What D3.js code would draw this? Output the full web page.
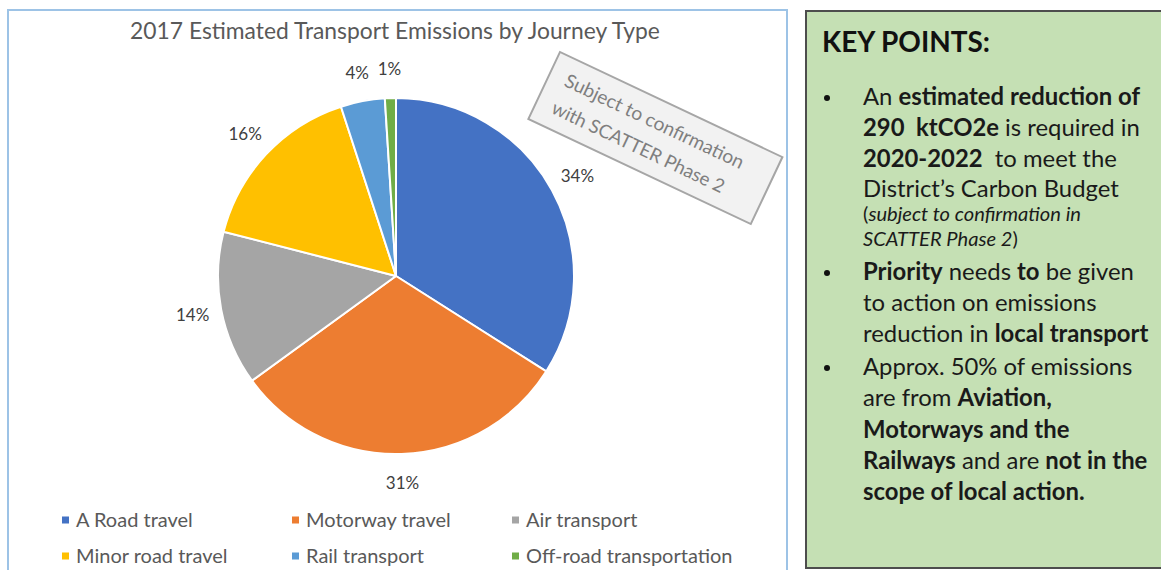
<!DOCTYPE html>
<html><head><meta charset="utf-8">
<script src="https://cdn.jsdelivr.net/npm/d3@7"></script>
<style>body{margin:0;background:#fff}svg{display:block}</style>
</head><body>
<script>
const categories = ["A Road travel","Motorway travel","Air transport","Minor road travel","Rail transport","Off-road transportation"];
const values = [34,31,14,16,4,1];
const valueLabels = ["34%","31%","14%","16%","4%","1%"];
const colors = ["#4472c4","#ed7d31","#a5a5a5","#ffc000","#5b9bd5","#70ad47"];
const title = "2017 Estimated Transport Emissions by Journey Type";
const noteLines = ["Subject to confirmation","with SCATTER Phase 2"];
const keyTitle = "KEY POINTS:";
const keyLines = [
  [true,"n",[["An ","n"],["estimated reduction of","b"]]],
  [false,"n",[["290  ktCO2e","b"],[" is required in","n"]]],
  [false,"n",[["2020-2022","b"],["  to meet the","n"]]],
  [false,"n",[["District\u2019s Carbon Budget","n"]]],
  [false,"s",[["(","n"],["subject to confirmation in","i"]]],
  [false,"s",[["SCATTER Phase 2","i"],[")","n"]]],
  [true,"n",[["Priority","b"],[" needs ","n"],["to","b"],[" be given","n"]]],
  [false,"n",[["to action on emissions","n"]]],
  [false,"n",[["reduction in ","n"],["local transport","b"]]],
  [true,"n",[["Approx. 50% of emissions","n"]]],
  [false,"n",[["are from ","n"],["Aviation,","b"]]],
  [false,"n",[["Motorways and the","b"]]],
  [false,"n",[["Railways","b"],[" and are ","n"],["not in the","b"]]],
  [false,"n",[["scope of local action.","b"]]]
];
const keyBaselines = [105,136,167,197,221,246,280,311,342,375,406,438,469,500];
const keyWidths = [282,267,242,268,222,152,268,235,285,268,194,210,284,222];

const W=1161,H=570;
const FONT="Lato, 'Open Sans', sans-serif";
const svg=d3.select("body").append("svg").attr("width",W).attr("height",H);

function fittedSize(sel, target){
  const w=sel.node().getComputedTextLength();
  const fs=parseFloat(sel.attr("font-size"));
  return w>0 ? fs*target/w : fs;
}
function fitSize(sel,target){ sel.attr("font-size",fittedSize(sel,target).toFixed(2)); }

// left chart frame
svg.append("rect").attr("x",8).attr("y",10).attr("width",779).attr("height",580)
  .attr("fill","#fff").attr("stroke","#9dc3e6").attr("stroke-width",2);

const tt=svg.append("text").attr("x",395).attr("y",39).attr("text-anchor","middle")
  .attr("font-family",FONT).attr("font-size",20).attr("fill","#595959").text(title);
fitSize(tt,530);

// pie
const cx=396, cy=276, R=178;
const pie=d3.pie().sort(null).value(d=>d)(values);
const arc=d3.arc().innerRadius(0).outerRadius(R);
const labelArc=d3.arc().innerRadius(207).outerRadius(207);
const g=svg.append("g").attr("transform",`translate(${cx},${cy})`);
g.selectAll("path").data(pie).join("path").attr("d",arc)
  .attr("fill",(d,i)=>colors[i]).attr("stroke","#fff").attr("stroke-width",2).attr("stroke-linejoin","round");
g.selectAll("text.lbl").data(pie).join("text").attr("class","lbl")
  .attr("transform",d=>`translate(${labelArc.centroid(d)})`)
  .attr("text-anchor","middle").attr("dy","0.35em")
  .attr("font-family",FONT).attr("font-size",17).attr("fill","#404040")
  .text((d,i)=>valueLabels[i]);

// legend
const lx=d3.scaleOrdinal().domain([0,1,2]).range([62,292,512]);
const ly=d3.scaleOrdinal().domain([0,1]).range([520,556]);
const leg=svg.append("g").selectAll("g").data(categories).join("g")
  .attr("transform",(d,i)=>`translate(${lx(i%3)},${ly(Math.floor(i/3))})`);
leg.append("rect").attr("x",0).attr("y",-3.5).attr("width",7).attr("height",7).attr("fill",(d,i)=>colors[i]);
leg.append("text").attr("x",14).attr("dy","0.35em").attr("font-family",FONT).attr("font-size",20)
  .attr("fill","#595959").text(d=>d);

// rotated note box
const note=svg.append("g").attr("transform","translate(560,52) rotate(25.3)");
note.append("rect").attr("x",0).attr("y",0).attr("width",246).attr("height",74)
  .attr("fill","#f2f2f2").attr("stroke","#a6a6a6").attr("stroke-width",2);
const nt=note.selectAll("text").data(noteLines).join("text")
  .attr("x",17).attr("y",(d,i)=>29+i*30)
  .attr("font-family",FONT).attr("font-size",19).attr("fill","#7f7f7f").text(d=>d);
nt.each(function(d,i){ fitSize(d3.select(this),[196,189][i]); });

// key points panel
svg.append("rect").attr("x",806).attr("y",11).attr("width",370).attr("height",557)
  .attr("fill","#c5e0b4").attr("stroke","#4d4d4d").attr("stroke-width",2);
const kt=svg.append("text").attr("x",822).attr("y",52).attr("font-family",FONT).attr("font-weight","bold")
  .attr("font-size",25).attr("fill","#111").text(keyTitle);
fitSize(kt,168);
const texts=[];
const kl=svg.append("g").selectAll("g").data(keyLines).join("g");
kl.each(function(d,i){
  const gg=d3.select(this);
  const y=keyBaselines[i];
  if(d[0]) gg.append("circle").attr("cx",827).attr("cy",y-7).attr("r",3).attr("fill","#111");
  const t=gg.append("text").attr("x",863).attr("y",y).attr("font-family",FONT)
    .attr("font-size",d[1]==="s"?15:21).attr("fill","#1a1a1a").attr("xml:space","preserve");
  d[2].forEach(s=>{
    t.append("tspan").text(s[0])
      .attr("font-weight",s[1]==="b"?"bold":"normal")
      .attr("font-style",s[1]==="i"?"italic":"normal");
  });
  texts.push({t,cls:d[1],fs:fittedSize(t,keyWidths[i])});
});
["n","s"].forEach(c=>{
  const sizes=texts.filter(o=>o.cls===c).map(o=>o.fs);
  const m=d3.median(sizes);
  texts.filter(o=>o.cls===c).forEach(o=>o.t.attr("font-size",m.toFixed(2)));
});
</script>
</body></html>
